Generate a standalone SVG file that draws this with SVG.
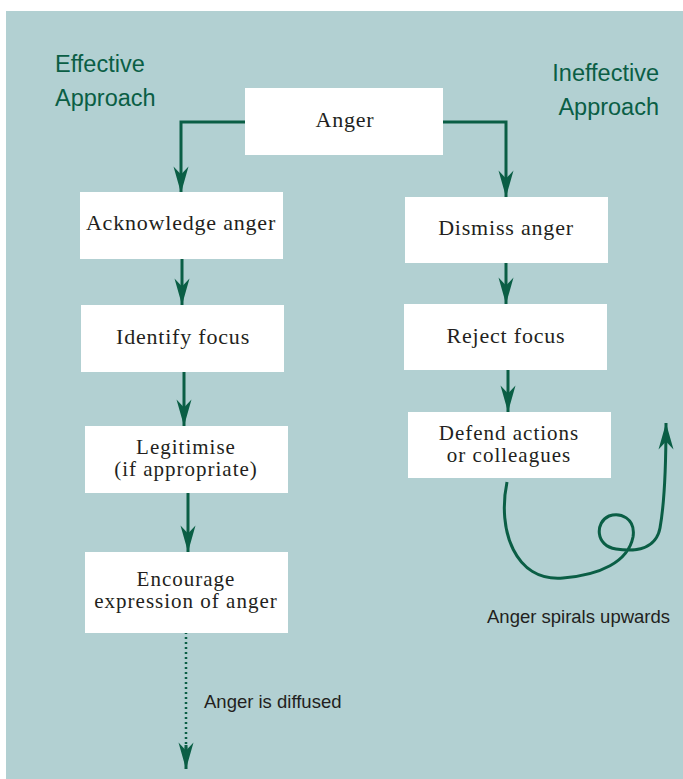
<svg xmlns="http://www.w3.org/2000/svg" width="683" height="779" viewBox="0 0 683 779">
<defs>
<marker id="ah" markerUnits="userSpaceOnUse" markerWidth="30" markerHeight="20" viewBox="-24 -8 26 16" refX="0" refY="0" orient="auto">
<path d="M0,0 L-23,-6.5 L-16,0 L-23,6.5 Z" fill="#0a5e45"/>
</marker>
</defs>
<style>
.box{fill:#ffffff}
.bt{font-family:"Liberation Serif","Times New Roman",serif;font-size:22px;fill:#231f20;text-anchor:middle;letter-spacing:0.8px}
.bt2{font-size:21px;letter-spacing:1px}
.title{font-family:"Liberation Sans",Arial,sans-serif;font-size:23.5px;fill:#0a5e45}
.lab{font-family:"Liberation Sans",Arial,sans-serif;font-size:18.5px;fill:#231f20}
.con{fill:none;stroke:#0a5e45;stroke-width:3;marker-end:url(#ah)}
</style>
<rect x="6" y="11" width="677" height="768" fill="#b2d0d2"/>
<g id="titles">
<text class="title" x="55" y="72">Effective</text>
<text class="title" x="55" y="106">Approach</text>
<text class="title" x="659" y="81" text-anchor="end">Ineffective</text>
<text class="title" x="659" y="115" text-anchor="end">Approach</text>
</g>
<g id="connectors">
<path class="con" d="M245,122 H181 V193"/>
<path class="con" d="M443,122 H506 V197"/>
<path class="con" d="M182,259 V305"/>
<path class="con" d="M184,372 V426"/>
<path class="con" d="M188,493 V552"/>
<path class="con" d="M506,263 V304"/>
<path class="con" d="M508,370 V412"/>
<path d="M186,617 V752" fill="none" stroke="#0a5e45" stroke-width="2.5" stroke-dasharray="2,3"/>
<path class="con" d="M186,745 V769" stroke-width="0"/>
<path class="con" stroke-width="2.5" d="M507,482 C497,530 515,582 563,578 C600,575 628,562 633,537 C636,518 620,512 609,516 C595,522 595,546 616,549 C636,552 656,549 660,528 C665,500 666,455 666,423"/>
<text class="lab" x="204" y="708">Anger is diffused</text>
<text class="lab" x="487" y="623">Anger spirals upwards</text>
</g>
<g id="anger"><rect class="box" x="245" y="88" width="198" height="67"/><text class="bt" x="345" y="127">Anger</text></g>
<g id="acknowledge"><rect class="box" x="80" y="192" width="203" height="67"/><text class="bt" x="181" y="230">Acknowledge anger</text></g>
<g id="identify"><rect class="box" x="81" y="305" width="203" height="67"/><text class="bt" x="183" y="344">Identify focus</text></g>
<g id="legitimise"><rect class="box" x="85" y="426" width="203" height="67"/><text class="bt bt2" x="186" y="454">Legitimise</text><text class="bt bt2" x="186" y="476">(if appropriate)</text></g>
<g id="encourage"><rect class="box" x="85" y="552" width="203" height="81"/><text class="bt bt2" x="186" y="586">Encourage</text><text class="bt bt2" x="186" y="608">expression of anger</text></g>
<g id="dismiss"><rect class="box" x="405" y="197" width="203" height="66"/><text class="bt" x="506" y="235">Dismiss anger</text></g>
<g id="reject"><rect class="box" x="404" y="304" width="203" height="66"/><text class="bt" x="506" y="343">Reject focus</text></g>
<g id="defend"><rect class="box" x="408" y="412" width="203" height="66"/><text class="bt bt2" x="509" y="440">Defend actions</text><text class="bt bt2" x="509" y="462">or colleagues</text></g>
</svg>
